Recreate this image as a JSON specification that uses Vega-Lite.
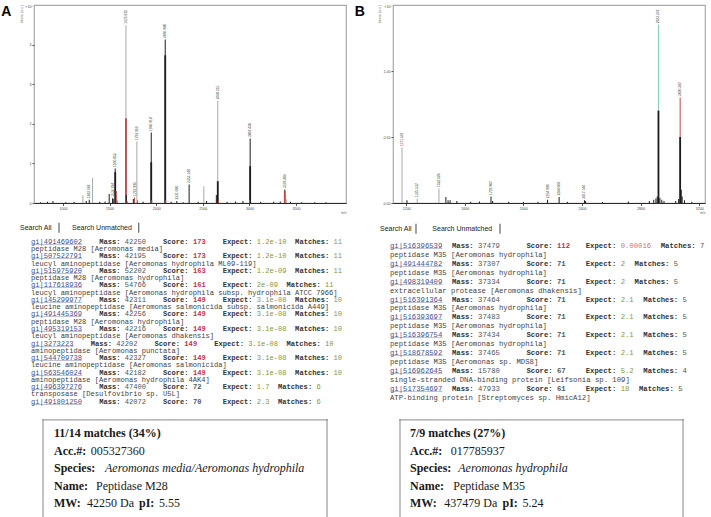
{
  "$schema": "https://vega.github.io/schema/vega-lite/v6.json",
  "background": "white",
  "padding": {"left": 0, "top": 4, "right": 0, "bottom": 0},
  "config": {
    "view": {"stroke": null},
    "font": "Liberation Sans",
    "axis": {"grid": false, "domain": false, "labelFont": "Liberation Sans", "titleFont": "Liberation Sans"}
  },
  "datasets": {
    "peaksA": [
      {"mz": 1282.668, "intensity": 0.08, "trace": "processed"},
      {"mz": 1532.794, "intensity": 0.12, "trace": "processed"},
      {"mz": 1560.852, "intensity": 0.87, "trace": "processed"},
      {"mz": 1675.875, "intensity": 4.49, "trace": "raw"},
      {"mz": 1767.995, "intensity": 0.14, "trace": "matched"},
      {"mz": 1792.91, "intensity": 1.55, "trace": "raw"},
      {"mz": 1946.918, "intensity": 1.78, "trace": "processed"},
      {"mz": 2096.98, "intensity": 4.13, "trace": "processed"},
      {"mz": 2221.09, "intensity": 0.05, "trace": "processed"},
      {"mz": 2353.148, "intensity": 0.47, "trace": "processed"},
      {"mz": 2660.215, "intensity": 2.58, "trace": "raw"},
      {"mz": 3007.42, "intensity": 1.63, "trace": "processed"},
      {"mz": 3378.486, "intensity": 0.34, "trace": "processed"}
    ],
    "coresA": [
      {"mz": 1560.852, "intensity": 0.78, "trace": "processed"},
      {"mz": 1675.875, "intensity": 2.14, "trace": "matched"},
      {"mz": 1946.918, "intensity": 1.03, "trace": "processed"},
      {"mz": 2096.98, "intensity": 3.73, "trace": "processed"},
      {"mz": 2660.215, "intensity": 0.55, "trace": "processed"},
      {"mz": 3007.42, "intensity": 0.93, "trace": "processed"},
      {"mz": 3378.486, "intensity": 0.3, "trace": "matched"}
    ],
    "minorA": [
      {"mz": 760, "intensity": 0.02, "trace": "processed"},
      {"mz": 835, "intensity": 0.03, "trace": "processed"},
      {"mz": 893, "intensity": 0.05, "trace": "processed"},
      {"mz": 1030, "intensity": 0.02, "trace": "processed"},
      {"mz": 1120, "intensity": 0.03, "trace": "processed"},
      {"mz": 1214, "intensity": 0.19, "trace": "raw"},
      {"mz": 1250, "intensity": 0.05, "trace": "processed"},
      {"mz": 1318, "intensity": 0.63, "trace": "raw"},
      {"mz": 1395, "intensity": 0.03, "trace": "processed"},
      {"mz": 1452, "intensity": 0.04, "trace": "processed"},
      {"mz": 1496, "intensity": 0.23, "trace": "processed"},
      {"mz": 1539, "intensity": 0.1, "trace": "processed"},
      {"mz": 1572, "intensity": 0.3, "trace": "matched"},
      {"mz": 1582, "intensity": 0.06, "trace": "matched"},
      {"mz": 1680, "intensity": 0.2, "trace": "processed"},
      {"mz": 1688, "intensity": 0.05, "trace": "matched"},
      {"mz": 1755, "intensity": 0.1, "trace": "processed"},
      {"mz": 1800, "intensity": 0.06, "trace": "matched"},
      {"mz": 1860, "intensity": 0.03, "trace": "processed"},
      {"mz": 1952, "intensity": 0.07, "trace": "matched"},
      {"mz": 2102, "intensity": 0.08, "trace": "matched"},
      {"mz": 2160, "intensity": 0.03, "trace": "processed"},
      {"mz": 2290, "intensity": 0.02, "trace": "processed"},
      {"mz": 2450, "intensity": 0.03, "trace": "processed"},
      {"mz": 2511, "intensity": 0.42, "trace": "raw"},
      {"mz": 2540, "intensity": 0.05, "trace": "processed"},
      {"mz": 2645, "intensity": 0.2, "trace": "processed"},
      {"mz": 2668, "intensity": 0.06, "trace": "matched"},
      {"mz": 2760, "intensity": 0.03, "trace": "processed"},
      {"mz": 2850, "intensity": 0.04, "trace": "processed"},
      {"mz": 2930, "intensity": 0.05, "trace": "processed"},
      {"mz": 3000, "intensity": 0.08, "trace": "matched"},
      {"mz": 3120, "intensity": 0.03, "trace": "processed"},
      {"mz": 3260, "intensity": 0.03, "trace": "processed"},
      {"mz": 3330, "intensity": 0.04, "trace": "processed"},
      {"mz": 3395, "intensity": 0.1, "trace": "raw"},
      {"mz": 3440, "intensity": 0.03, "trace": "processed"},
      {"mz": 3560, "intensity": 0.02, "trace": "processed"},
      {"mz": 3700, "intensity": 0.02, "trace": "processed"},
      {"mz": 3820, "intensity": 0.02, "trace": "processed"}
    ],
    "peaksB": [
      {"mz": 1171.547, "intensity": 0.42, "trace": "raw"},
      {"mz": 1275.537, "intensity": 0.035, "trace": "raw"},
      {"mz": 1423.686, "intensity": 0.11, "trace": "raw"},
      {"mz": 1778.907, "intensity": 0.05, "trace": "processed"},
      {"mz": 2164.99, "intensity": 0.025, "trace": "processed"},
      {"mz": 2244.068, "intensity": 0.045, "trace": "processed"},
      {"mz": 2417.144, "intensity": 0.02, "trace": "processed"},
      {"mz": 2922.237, "intensity": 1.35, "trace": "reference"},
      {"mz": 3070.387, "intensity": 0.8, "trace": "matched"}
    ],
    "coresB": [
      {"mz": 2922.237, "intensity": 0.7, "trace": "processed"},
      {"mz": 3070.387, "intensity": 0.5, "trace": "processed"}
    ],
    "minorB": [
      {"mz": 1205, "intensity": 0.02, "trace": "processed"},
      {"mz": 1471, "intensity": 0.045, "trace": "processed"},
      {"mz": 1486, "intensity": 0.02, "trace": "processed"},
      {"mz": 1500, "intensity": 0.02, "trace": "processed"},
      {"mz": 1546, "intensity": 0.015, "trace": "processed"},
      {"mz": 1640, "intensity": 0.01, "trace": "processed"},
      {"mz": 1700, "intensity": 0.012, "trace": "processed"},
      {"mz": 1790, "intensity": 0.015, "trace": "processed"},
      {"mz": 1900, "intensity": 0.01, "trace": "processed"},
      {"mz": 2000, "intensity": 0.008, "trace": "processed"},
      {"mz": 2100, "intensity": 0.01, "trace": "processed"},
      {"mz": 2300, "intensity": 0.01, "trace": "processed"},
      {"mz": 2425, "intensity": 0.015, "trace": "processed"},
      {"mz": 2540, "intensity": 0.008, "trace": "processed"},
      {"mz": 2717, "intensity": 0.012, "trace": "processed"},
      {"mz": 2860, "intensity": 0.015, "trace": "processed"},
      {"mz": 2890, "intensity": 0.025, "trace": "processed"},
      {"mz": 2905, "intensity": 0.035, "trace": "processed"},
      {"mz": 2914, "intensity": 0.05, "trace": "processed"},
      {"mz": 2932, "intensity": 0.04, "trace": "processed"},
      {"mz": 2945, "intensity": 0.025, "trace": "processed"},
      {"mz": 2960, "intensity": 0.015, "trace": "processed"},
      {"mz": 3040, "intensity": 0.015, "trace": "processed"},
      {"mz": 3060, "intensity": 0.03, "trace": "processed"},
      {"mz": 3078, "intensity": 0.1, "trace": "processed"},
      {"mz": 3084, "intensity": 0.05, "trace": "processed"},
      {"mz": 3100, "intensity": 0.02, "trace": "processed"},
      {"mz": 3150, "intensity": 0.01, "trace": "processed"}
    ],
    "hitsA": [
      {"rank": 0, "gi": "gi|491469602", "mass": 42250, "score": 173, "expect": "1.2e-10", "matches": 11, "desc": "peptidase M28 [Aeromonas media]"},
      {"rank": 1, "gi": "gi|507522791", "mass": 42195, "score": 173, "expect": "1.2e-10", "matches": 11, "desc": "leucyl aminopeptidase [Aeromonas hydrophila ML09-119]"},
      {"rank": 2, "gi": "gi|515975920", "mass": 52202, "score": 163, "expect": "1.2e-09", "matches": 11, "desc": "peptidase M28 [Aeromonas hydrophila]"},
      {"rank": 3, "gi": "gi|117618936", "mass": 54766, "score": 161, "expect": "2e-09", "matches": 11, "desc": "leucyl aminopeptidase [Aeromonas hydrophila subsp. hydrophila ATCC 7966]"},
      {"rank": 4, "gi": "gi|145299977", "mass": 42311, "score": 149, "expect": "3.1e-08", "matches": 10, "desc": "leucine aminopeptidase [Aeromonas salmonicida subsp. salmonicida A449]"},
      {"rank": 5, "gi": "gi|491445369", "mass": 42256, "score": 149, "expect": "3.1e-08", "matches": 10, "desc": "peptidase M28 [Aeromonas hydrophila]"},
      {"rank": 6, "gi": "gi|495319153", "mass": 42216, "score": 149, "expect": "3.1e-08", "matches": 10, "desc": "leucyl aminopeptidase [Aeromonas dhakensis]"},
      {"rank": 7, "gi": "gi|3273223", "mass": 42202, "score": 149, "expect": "3.1e-08", "matches": 10, "desc": "aminopeptidase [Aeromonas punctata]"},
      {"rank": 8, "gi": "gi|544709738", "mass": 42327, "score": 149, "expect": "3.1e-08", "matches": 10, "desc": "leucine aminopeptidase [Aeromonas salmonicida]"},
      {"rank": 9, "gi": "gi|563546024", "mass": 42182, "score": 149, "expect": "3.1e-08", "matches": 10, "desc": "aminopeptidase [Aeromonas hydrophila 4AK4]"},
      {"rank": 10, "gi": "gi|496397276", "mass": 47400, "score": 72, "expect": "1.7", "matches": 6, "desc": "transposase [Desulfovibrio sp. U5L]"},
      {"rank": 11, "gi": "gi|491801250", "mass": 42072, "score": 70, "expect": "2.3", "matches": 6, "desc": ""}
    ],
    "hitsB": [
      {"rank": 0, "gi": "gi|516396539", "mass": 37479, "score": 112, "expect": "0.00016", "matches": 7, "desc": "peptidase M35 [Aeromonas hydrophila]"},
      {"rank": 1, "gi": "gi|491444782", "mass": 37307, "score": 71, "expect": "2", "matches": 5, "desc": "peptidase M35 [Aeromonas hydrophila]"},
      {"rank": 2, "gi": "gi|498319409", "mass": 37334, "score": 71, "expect": "2", "matches": 5, "desc": "extracellular protease [Aeromonas dhakensis]"},
      {"rank": 3, "gi": "gi|516391364", "mass": 37464, "score": 71, "expect": "2.1", "matches": 5, "desc": "peptidase M35 [Aeromonas hydrophila]"},
      {"rank": 4, "gi": "gi|516393697", "mass": 37483, "score": 71, "expect": "2.1", "matches": 5, "desc": "peptidase M35 [Aeromonas hydrophila]"},
      {"rank": 5, "gi": "gi|516396754", "mass": 37434, "score": 71, "expect": "2.1", "matches": 5, "desc": "peptidase M35 [Aeromonas hydrophila]"},
      {"rank": 6, "gi": "gi|518678592", "mass": 37465, "score": 71, "expect": "2.1", "matches": 5, "desc": "peptidase M35 [Aeromonas sp. MDS8]"},
      {"rank": 7, "gi": "gi|516962645", "mass": 15780, "score": 67, "expect": "5.2", "matches": 4, "desc": "single-stranded DNA-binding protein [Leifsonia sp. 109]"},
      {"rank": 8, "gi": "gi|517354697", "mass": 47933, "score": 61, "expect": "18", "matches": 5, "desc": "ATP-binding protein [Streptomyces sp. HmicA12]"}
    ]
  },
  "bounds": "full",
  "spacing": 7,
  "hconcat": [
    {
      "bounds": "flush",
      "spacing": 0,
      "vconcat": [
        {
          "width": 312,
          "height": 198,
          "view": {"stroke": "#a9a9a9", "strokeWidth": 1.2},
          "title": {"text": "A", "orient": "left", "anchor": "end", "angle": 0, "align": "right", "baseline": "top", "fontSize": 14, "fontWeight": "bold", "font": "Liberation Sans", "color": "#000000", "offset": -2.5},
          "layer": [
            {
              "data": {"name": "peaksA"},
              "mark": {"type": "bar", "width": 1, "orient": "vertical"},
              "encoding": {
                "x": {"field": "mz", "type": "quantitative", "scale": {"domain": [690, 4035], "nice": false, "zero": false, "padding": 0},
                  "axis": {"values": [1000, 1500, 2000, 2500, 3000, 3500], "format": "d", "domain": true, "domainColor": "#2a2a2a", "domainWidth": 1, "labelFontSize": 3.6, "labelColor": "#444444", "tickSize": 2.5, "tickColor": "#555555", "labelPadding": 1, "title": "m/z", "titleFontSize": 3.2, "titleFontWeight": "normal", "titleColor": "#555555", "titleAnchor": "end", "titleAlign": "right", "titlePadding": 0}},
                "y": {"field": "intensity", "type": "quantitative", "stack": null, "scale": {"domain": [0, 5], "nice": false, "padding": 0},
                  "axis": {"values": [0, 1, 2, 3, 4], "format": "d", "labelFontSize": 3.6, "labelColor": "#444444", "tickSize": 2, "tickColor": "#555555", "labelPadding": 1, "title": "Intens. [a.u.]", "titleFontSize": 3.2, "titleFontWeight": "normal", "titleColor": "#555555", "titleAnchor": "end", "titlePadding": 6}},
                "color": {"field": "trace", "type": "nominal", "scale": {"domain": ["raw", "processed", "matched", "reference"], "range": ["#a8a8a8", "#1c1c1c", "#b94a48", "#86c9bb"]}, "legend": null}
              }
            },
            {
              "data": {"name": "coresA"},
              "mark": {"type": "bar", "width": 1.8, "orient": "vertical"},
              "encoding": {
                "x": {"field": "mz", "type": "quantitative", "scale": {"domain": [690, 4035], "nice": false, "zero": false, "padding": 0}},
                "y": {"field": "intensity", "type": "quantitative", "stack": null, "scale": {"domain": [0, 5], "nice": false, "padding": 0}},
                "color": {"field": "trace", "type": "nominal", "scale": {"domain": ["raw", "processed", "matched", "reference"], "range": ["#a8a8a8", "#1c1c1c", "#b94a48", "#86c9bb"]}, "legend": null}
              }
            },
            {
              "data": {"name": "minorA"},
              "mark": {"type": "bar", "width": 1, "orient": "vertical"},
              "encoding": {
                "x": {"field": "mz", "type": "quantitative", "scale": {"domain": [690, 4035], "nice": false, "zero": false, "padding": 0}},
                "y": {"field": "intensity", "type": "quantitative", "stack": null, "scale": {"domain": [0, 5], "nice": false, "padding": 0}},
                "color": {"field": "trace", "type": "nominal", "scale": {"domain": ["raw", "processed", "matched", "reference"], "range": ["#a8a8a8", "#1c1c1c", "#b94a48", "#86c9bb"]}, "legend": null}
              }
            },
            {
              "data": {"name": "peaksA"},
              "mark": {"type": "text", "angle": 270, "align": "left", "baseline": "middle", "dx": 1.5, "fontSize": 3.3, "color": "#444444"},
              "encoding": {
                "x": {"field": "mz", "type": "quantitative", "scale": {"domain": [690, 4035], "nice": false, "zero": false, "padding": 0}},
                "y": {"field": "intensity", "type": "quantitative", "scale": {"domain": [0, 5], "nice": false, "padding": 0}},
                "text": {"field": "mz", "type": "quantitative", "format": ".3f"}
              }
            },
            {
              "data": {"values": [{"unit": "×10⁴"}]},
              "mark": {"type": "text", "align": "right", "baseline": "top", "dx": -1, "fontSize": 3.6, "color": "#444444"},
              "encoding": {
                "x": {"datum": 690, "type": "quantitative", "scale": {"domain": [690, 4035], "nice": false, "zero": false, "padding": 0}},
                "y": {"datum": 5, "type": "quantitative", "scale": {"domain": [0, 5], "nice": false, "padding": 0}},
                "text": {"field": "unit", "type": "nominal"}
              }
            }
          ]
        },
        {
          "width": 312,
          "height": 216,
          "layer": [
            {
              "data": {"values": [{"label": "Search All"}]},
              "mark": {"type": "text", "align": "left", "baseline": "middle", "fontSize": 7, "color": "#222222", "dx": -14},
              "encoding": {
                "x": {"datum": 0.704, "type": "quantitative", "scale": {"domain": [0.704, 73.943], "nice": false, "zero": false, "padding": 0}, "axis": null},
                "y": {"datum": -0.962, "type": "quantitative", "scale": {"domain": [-2.66, 12.185], "reverse": true, "nice": false, "zero": false, "padding": 0}, "axis": null},
                "text": {"field": "label", "type": "nominal"}
              }
            },
            {
              "data": {"values": [{"label": "Search Unmatched"}]},
              "mark": {"type": "text", "align": "left", "baseline": "middle", "fontSize": 7, "color": "#222222"},
              "encoding": {
                "x": {"datum": 9.62, "type": "quantitative", "scale": {"domain": [0.704, 73.943], "nice": false, "zero": false, "padding": 0}, "axis": null},
                "y": {"datum": -0.962, "type": "quantitative", "scale": {"domain": [-2.66, 12.185], "reverse": true, "nice": false, "zero": false, "padding": 0}, "axis": null},
                "text": {"field": "label", "type": "nominal"}
              }
            },
            {
              "data": {"values": [{"edge": 6.57}, {"edge": 25.28}]},
              "mark": {"type": "tick", "orient": "vertical", "color": "#333333", "thickness": 1.3, "size": 10},
              "encoding": {
                "x": {"field": "edge", "type": "quantitative", "scale": {"domain": [0.704, 73.943], "nice": false, "zero": false, "padding": 0}, "axis": null},
                "y": {"datum": -0.962, "type": "quantitative", "scale": {"domain": [-2.66, 12.185], "reverse": true, "nice": false, "zero": false, "padding": 0}, "axis": null}
              }
            },
            {
              "data": {"name": "hitsA"},
              "transform": [
                {"calculate": "length(datum.gi)", "as": "giEnd"},
                {"calculate": "pad('', datum.giEnd, '_')", "as": "giLine"},
                {"calculate": "datum.giEnd + 4", "as": "massCol"},
                {"calculate": "datum.massCol + 15", "as": "scoreCol"},
                {"calculate": "datum.scoreCol + 14", "as": "expectCol"},
                {"calculate": "datum.expectCol + 10 + length(datum.expect)", "as": "matchesCol"}
              ],
              "encoding": {
                "y": {"field": "rank", "type": "quantitative", "scale": {"domain": [-2.66, 12.185], "reverse": true, "nice": false, "zero": false, "padding": 0}, "axis": null}
              },
              "layer": [
                {
                  "mark": {"type": "text", "align": "left", "baseline": "middle", "font": "Liberation Mono", "fontSize": 7.1, "color": "#44518a", "dx": -3},
                  "encoding": {
                    "x": {"datum": 0.704, "type": "quantitative", "scale": {"domain": [0.704, 73.943], "nice": false, "zero": false, "padding": 0}, "axis": null},
                    "text": {"field": "gi", "type": "nominal"}
                  }
                },
                {
                  "mark": {"type": "text", "align": "left", "baseline": "middle", "font": "Liberation Mono", "fontSize": 7.1, "color": "#44518a", "dx": -3},
                  "encoding": {
                    "x": {"datum": 0.704, "type": "quantitative", "scale": {"domain": [0.704, 73.943], "nice": false, "zero": false, "padding": 0}, "axis": null},
                    "text": {"field": "giLine", "type": "nominal"}
                  }
                },
                {
                  "mark": {"type": "text", "align": "left", "baseline": "middle", "font": "Liberation Mono", "fontSize": 7.1, "fontWeight": "bold", "color": "#333333"},
                  "encoding": {
                    "x": {"field": "massCol", "type": "quantitative", "scale": {"domain": [0.704, 73.943], "nice": false, "zero": false, "padding": 0}, "axis": null},
                    "text": {"value": "Mass:"}
                  }
                },
                {
                  "mark": {"type": "text", "align": "left", "baseline": "middle", "font": "Liberation Mono", "fontSize": 7.1, "color": "#555555", "dx": 25.56},
                  "encoding": {
                    "x": {"field": "massCol", "type": "quantitative", "scale": {"domain": [0.704, 73.943], "nice": false, "zero": false, "padding": 0}, "axis": null},
                    "text": {"field": "mass", "type": "nominal"}
                  }
                },
                {
                  "mark": {"type": "text", "align": "left", "baseline": "middle", "font": "Liberation Mono", "fontSize": 7.1, "fontWeight": "bold", "color": "#333333"},
                  "encoding": {
                    "x": {"field": "scoreCol", "type": "quantitative", "scale": {"domain": [0.704, 73.943], "nice": false, "zero": false, "padding": 0}, "axis": null},
                    "text": {"value": "Score:"}
                  }
                },
                {
                  "mark": {"type": "text", "align": "left", "baseline": "middle", "font": "Liberation Mono", "fontSize": 7.1, "fontWeight": "bold", "dx": 29.82},
                  "encoding": {
                    "x": {"field": "scoreCol", "type": "quantitative", "scale": {"domain": [0.704, 73.943], "nice": false, "zero": false, "padding": 0}, "axis": null},
                    "text": {"field": "score", "type": "nominal"},
                    "color": {"condition": {"test": "datum.score > 100", "value": "#c42f4d"}, "value": "#555555"}
                  }
                },
                {
                  "mark": {"type": "text", "align": "left", "baseline": "middle", "font": "Liberation Mono", "fontSize": 7.1, "fontWeight": "bold", "color": "#333333"},
                  "encoding": {
                    "x": {"field": "expectCol", "type": "quantitative", "scale": {"domain": [0.704, 73.943], "nice": false, "zero": false, "padding": 0}, "axis": null},
                    "text": {"value": "Expect:"}
                  }
                },
                {
                  "mark": {"type": "text", "align": "left", "baseline": "middle", "font": "Liberation Mono", "fontSize": 7.1, "color": "#8a963c", "dx": 34.08},
                  "encoding": {
                    "x": {"field": "expectCol", "type": "quantitative", "scale": {"domain": [0.704, 73.943], "nice": false, "zero": false, "padding": 0}, "axis": null},
                    "text": {"field": "expect", "type": "nominal"}
                  }
                },
                {
                  "mark": {"type": "text", "align": "left", "baseline": "middle", "font": "Liberation Mono", "fontSize": 7.1, "fontWeight": "bold", "color": "#333333"},
                  "encoding": {
                    "x": {"field": "matchesCol", "type": "quantitative", "scale": {"domain": [0.704, 73.943], "nice": false, "zero": false, "padding": 0}, "axis": null},
                    "text": {"value": "Matches:"}
                  }
                },
                {
                  "mark": {"type": "text", "align": "left", "baseline": "middle", "font": "Liberation Mono", "fontSize": 7.1, "color": "#8a963c", "dx": 38.34},
                  "encoding": {
                    "x": {"field": "matchesCol", "type": "quantitative", "scale": {"domain": [0.704, 73.943], "nice": false, "zero": false, "padding": 0}, "axis": null},
                    "text": {"field": "matches", "type": "nominal"}
                  }
                },
                {
                  "mark": {"type": "text", "align": "left", "baseline": "middle", "font": "Liberation Mono", "fontSize": 7.1, "color": "#444444", "dx": -3, "dy": 7.27},
                  "encoding": {
                    "x": {"datum": 0.704, "type": "quantitative", "scale": {"domain": [0.704, 73.943], "nice": false, "zero": false, "padding": 0}, "axis": null},
                    "text": {"field": "desc", "type": "nominal"}
                  }
                }
              ]
            }
          ]
        },
        {
          "width": 312,
          "height": 99,
          "layer": [
            {
              "data": {"values": [{"edge": 0.75}, {"edge": 24.42}]},
              "mark": {"type": "tick", "orient": "vertical", "color": "#7a7a7a", "thickness": 1.3, "size": 200, "clip": true},
              "encoding": {
                "x": {"field": "edge", "type": "quantitative", "scale": {"domain": [0, 26], "nice": false, "zero": false, "padding": 0}, "axis": null},
                "y": {"datum": 4.857, "type": "quantitative", "scale": {"domain": [-0.8, 4.857], "reverse": true, "nice": false, "zero": false, "padding": 0}, "axis": null}
              }
            },
            {
              "data": {"values": [{"edge": -0.75}]},
              "mark": {"type": "tick", "orient": "horizontal", "color": "#7a7a7a", "thickness": 1.3, "size": 285.3},
              "encoding": {
                "x": {"datum": 12.585, "type": "quantitative", "scale": {"domain": [0, 26], "nice": false, "zero": false, "padding": 0}, "axis": null},
                "y": {"field": "edge", "type": "quantitative", "scale": {"domain": [-0.8, 4.857], "reverse": true, "nice": false, "zero": false, "padding": 0}, "axis": null}
              }
            },
            {
              "data": {"values": [
                {"line": 0, "text": "11/14 matches (34%)"},
                {"line": 1, "text": "Acc.#:"},
                {"line": 2, "text": "Species:"},
                {"line": 3, "text": "Name:"},
                {"line": 4, "text": "MW:"}
              ]},
              "mark": {"type": "text", "align": "left", "baseline": "middle", "font": "Liberation Serif", "fontSize": 12, "fontWeight": "bold", "color": "#1a1a1a"},
              "encoding": {
                "x": {"datum": 1.667, "type": "quantitative", "scale": {"domain": [0, 26], "nice": false, "zero": false, "padding": 0}, "axis": null},
                "y": {"field": "line", "type": "quantitative", "scale": {"domain": [-0.8, 4.857], "reverse": true, "nice": false, "zero": false, "padding": 0}, "axis": null},
                "text": {"field": "text", "type": "nominal"}
              }
            },
            {
              "data": {"values": [{"line": 1, "text": "005327360"}]},
              "mark": {"type": "text", "align": "left", "baseline": "middle", "font": "Liberation Serif", "fontSize": 12, "color": "#1a1a1a"},
              "encoding": {
                "x": {"datum": 4.73, "type": "quantitative", "scale": {"domain": [0, 26], "nice": false, "zero": false, "padding": 0}, "axis": null},
                "y": {"field": "line", "type": "quantitative", "scale": {"domain": [-0.8, 4.857], "reverse": true, "nice": false, "zero": false, "padding": 0}, "axis": null},
                "text": {"field": "text", "type": "nominal"}
              }
            },
            {
              "data": {"values": [{"line": 2, "text": "Aeromonas media/Aeromonas hydrophila"}]},
              "mark": {"type": "text", "align": "left", "baseline": "middle", "font": "Liberation Serif", "fontSize": 12, "fontStyle": "italic", "color": "#1a1a1a"},
              "encoding": {
                "x": {"datum": 5.92, "type": "quantitative", "scale": {"domain": [0, 26], "nice": false, "zero": false, "padding": 0}, "axis": null},
                "y": {"field": "line", "type": "quantitative", "scale": {"domain": [-0.8, 4.857], "reverse": true, "nice": false, "zero": false, "padding": 0}, "axis": null},
                "text": {"field": "text", "type": "nominal"}
              }
            },
            {
              "data": {"values": [{"line": 3, "text": "Peptidase M28"}]},
              "mark": {"type": "text", "align": "left", "baseline": "middle", "font": "Liberation Serif", "fontSize": 12, "color": "#1a1a1a"},
              "encoding": {
                "x": {"datum": 5.17, "type": "quantitative", "scale": {"domain": [0, 26], "nice": false, "zero": false, "padding": 0}, "axis": null},
                "y": {"field": "line", "type": "quantitative", "scale": {"domain": [-0.8, 4.857], "reverse": true, "nice": false, "zero": false, "padding": 0}, "axis": null},
                "text": {"field": "text", "type": "nominal"}
              }
            },
            {
              "data": {"values": [{"line": 4, "text": "42250 Da"}]},
              "mark": {"type": "text", "align": "left", "baseline": "middle", "font": "Liberation Serif", "fontSize": 12, "color": "#1a1a1a"},
              "encoding": {
                "x": {"datum": 4.42, "type": "quantitative", "scale": {"domain": [0, 26], "nice": false, "zero": false, "padding": 0}, "axis": null},
                "y": {"field": "line", "type": "quantitative", "scale": {"domain": [-0.8, 4.857], "reverse": true, "nice": false, "zero": false, "padding": 0}, "axis": null},
                "text": {"field": "text", "type": "nominal"}
              }
            },
            {
              "data": {"values": [{"line": 4, "text": "pI:"}]},
              "mark": {"type": "text", "align": "left", "baseline": "middle", "font": "Liberation Serif", "fontSize": 12, "fontWeight": "bold", "color": "#1a1a1a"},
              "encoding": {
                "x": {"datum": 8.75, "type": "quantitative", "scale": {"domain": [0, 26], "nice": false, "zero": false, "padding": 0}, "axis": null},
                "y": {"field": "line", "type": "quantitative", "scale": {"domain": [-0.8, 4.857], "reverse": true, "nice": false, "zero": false, "padding": 0}, "axis": null},
                "text": {"field": "text", "type": "nominal"}
              }
            },
            {
              "data": {"values": [{"line": 4, "text": "5.55"}]},
              "mark": {"type": "text", "align": "left", "baseline": "middle", "font": "Liberation Serif", "fontSize": 12, "color": "#1a1a1a"},
              "encoding": {
                "x": {"datum": 10.42, "type": "quantitative", "scale": {"domain": [0, 26], "nice": false, "zero": false, "padding": 0}, "axis": null},
                "y": {"field": "line", "type": "quantitative", "scale": {"domain": [-0.8, 4.857], "reverse": true, "nice": false, "zero": false, "padding": 0}, "axis": null},
                "text": {"field": "text", "type": "nominal"}
              }
            }
          ]
        }
      ]
    },
    {
      "bounds": "flush",
      "spacing": 0,
      "vconcat": [
        {
          "width": 312,
          "height": 198,
          "view": {"stroke": "#a9a9a9", "strokeWidth": 1.2},
          "title": {"text": "B", "orient": "left", "anchor": "end", "angle": 0, "align": "right", "baseline": "top", "fontSize": 14, "fontWeight": "bold", "font": "Liberation Sans", "color": "#000000", "offset": 2},
          "layer": [
            {
              "data": {"name": "peaksB"},
              "mark": {"type": "bar", "width": 1, "orient": "vertical"},
              "encoding": {
                "x": {"field": "mz", "type": "quantitative", "scale": {"domain": [1110, 3240], "nice": false, "zero": false, "padding": 0},
                  "axis": {"values": [1200, 1400, 1600, 1800, 2000, 2200, 2400, 2600, 2800, 3000, 3200], "format": "d", "domain": true, "domainColor": "#2a2a2a", "domainWidth": 1, "labelFontSize": 3.6, "labelColor": "#444444", "tickSize": 2.5, "tickColor": "#555555", "labelPadding": 1, "title": "m/z", "titleFontSize": 3.2, "titleFontWeight": "normal", "titleColor": "#555555", "titleAnchor": "end", "titleAlign": "right", "titlePadding": 0}},
                "y": {"field": "intensity", "type": "quantitative", "stack": null, "scale": {"domain": [0, 1.5], "nice": false, "padding": 0},
                  "axis": {"values": [0, 0.25, 0.5, 0.75, 1, 1.25], "format": ".2f", "labelFontSize": 3.6, "labelColor": "#444444", "tickSize": 2, "tickColor": "#555555", "labelPadding": 1, "title": "Intens. [a.u.]", "titleFontSize": 3.2, "titleFontWeight": "normal", "titleColor": "#555555", "titleAnchor": "end", "titlePadding": 2}},
                "color": {"field": "trace", "type": "nominal", "scale": {"domain": ["raw", "processed", "matched", "reference"], "range": ["#a8a8a8", "#1c1c1c", "#b94a48", "#86c9bb"]}, "legend": null}
              }
            },
            {
              "data": {"name": "coresB"},
              "mark": {"type": "bar", "width": 1.8, "orient": "vertical"},
              "encoding": {
                "x": {"field": "mz", "type": "quantitative", "scale": {"domain": [1110, 3240], "nice": false, "zero": false, "padding": 0}},
                "y": {"field": "intensity", "type": "quantitative", "stack": null, "scale": {"domain": [0, 1.5], "nice": false, "padding": 0}},
                "color": {"field": "trace", "type": "nominal", "scale": {"domain": ["raw", "processed", "matched", "reference"], "range": ["#a8a8a8", "#1c1c1c", "#b94a48", "#86c9bb"]}, "legend": null}
              }
            },
            {
              "data": {"name": "minorB"},
              "mark": {"type": "bar", "width": 1, "orient": "vertical"},
              "encoding": {
                "x": {"field": "mz", "type": "quantitative", "scale": {"domain": [1110, 3240], "nice": false, "zero": false, "padding": 0}},
                "y": {"field": "intensity", "type": "quantitative", "stack": null, "scale": {"domain": [0, 1.5], "nice": false, "padding": 0}},
                "color": {"field": "trace", "type": "nominal", "scale": {"domain": ["raw", "processed", "matched", "reference"], "range": ["#a8a8a8", "#1c1c1c", "#b94a48", "#86c9bb"]}, "legend": null}
              }
            },
            {
              "data": {"name": "peaksB"},
              "mark": {"type": "text", "angle": 270, "align": "left", "baseline": "middle", "dx": 1.5, "fontSize": 3.3, "color": "#444444"},
              "encoding": {
                "x": {"field": "mz", "type": "quantitative", "scale": {"domain": [1110, 3240], "nice": false, "zero": false, "padding": 0}},
                "y": {"field": "intensity", "type": "quantitative", "scale": {"domain": [0, 1.5], "nice": false, "padding": 0}},
                "text": {"field": "mz", "type": "quantitative", "format": ".3f"}
              }
            },
            {
              "data": {"values": [{"unit": "×10⁴"}]},
              "mark": {"type": "text", "align": "right", "baseline": "top", "dx": -1, "fontSize": 3.6, "color": "#444444"},
              "encoding": {
                "x": {"datum": 1110, "type": "quantitative", "scale": {"domain": [1110, 3240], "nice": false, "zero": false, "padding": 0}},
                "y": {"datum": 1.5, "type": "quantitative", "scale": {"domain": [0, 1.5], "nice": false, "padding": 0}},
                "text": {"field": "unit", "type": "nominal"}
              }
            }
          ]
        },
        {
          "width": 312,
          "height": 216,
          "layer": [
            {
              "data": {"values": [{"label": "Search All"}]},
              "mark": {"type": "text", "align": "left", "baseline": "middle", "fontSize": 7, "color": "#222222", "dx": -13},
              "encoding": {
                "x": {"datum": 0.688, "type": "quantitative", "scale": {"domain": [0.688, 72.248], "nice": false, "zero": false, "padding": 0}, "axis": null},
                "y": {"datum": -0.97, "type": "quantitative", "scale": {"domain": [-2.41, 9.697], "reverse": true, "nice": false, "zero": false, "padding": 0}, "axis": null},
                "text": {"field": "label", "type": "nominal"}
              }
            },
            {
              "data": {"values": [{"label": "Search Unmatched"}]},
              "mark": {"type": "text", "align": "left", "baseline": "middle", "fontSize": 7, "color": "#222222"},
              "encoding": {
                "x": {"datum": 9.71, "type": "quantitative", "scale": {"domain": [0.688, 72.248], "nice": false, "zero": false, "padding": 0}, "axis": null},
                "y": {"datum": -0.97, "type": "quantitative", "scale": {"domain": [-2.41, 9.697], "reverse": true, "nice": false, "zero": false, "padding": 0}, "axis": null},
                "text": {"field": "label", "type": "nominal"}
              }
            },
            {
              "data": {"values": [{"edge": 5.96}, {"edge": 25.23}]},
              "mark": {"type": "tick", "orient": "vertical", "color": "#333333", "thickness": 1.3, "size": 10},
              "encoding": {
                "x": {"field": "edge", "type": "quantitative", "scale": {"domain": [0.688, 72.248], "nice": false, "zero": false, "padding": 0}, "axis": null},
                "y": {"datum": -0.97, "type": "quantitative", "scale": {"domain": [-2.41, 9.697], "reverse": true, "nice": false, "zero": false, "padding": 0}, "axis": null}
              }
            },
            {
              "data": {"name": "hitsB"},
              "transform": [
                {"calculate": "length(datum.gi)", "as": "giEnd"},
                {"calculate": "pad('', datum.giEnd, '_')", "as": "giLine"},
                {"calculate": "datum.giEnd + 2.2", "as": "massCol"},
                {"calculate": "datum.massCol + 17.1", "as": "scoreCol"},
                {"calculate": "datum.scoreCol + 13.6", "as": "expectCol"},
                {"calculate": "datum.expectCol + 10.2 + length(datum.expect)", "as": "matchesCol"}
              ],
              "encoding": {
                "y": {"field": "rank", "type": "quantitative", "scale": {"domain": [-2.41, 9.697], "reverse": true, "nice": false, "zero": false, "padding": 0}, "axis": null}
              },
              "layer": [
                {
                  "mark": {"type": "text", "align": "left", "baseline": "middle", "font": "Liberation Mono", "fontSize": 7.27, "color": "#44518a", "dx": -3},
                  "encoding": {
                    "x": {"datum": 0.688, "type": "quantitative", "scale": {"domain": [0.688, 72.248], "nice": false, "zero": false, "padding": 0}, "axis": null},
                    "text": {"field": "gi", "type": "nominal"}
                  }
                },
                {
                  "mark": {"type": "text", "align": "left", "baseline": "middle", "font": "Liberation Mono", "fontSize": 7.27, "color": "#44518a", "dx": -3},
                  "encoding": {
                    "x": {"datum": 0.688, "type": "quantitative", "scale": {"domain": [0.688, 72.248], "nice": false, "zero": false, "padding": 0}, "axis": null},
                    "text": {"field": "giLine", "type": "nominal"}
                  }
                },
                {
                  "mark": {"type": "text", "align": "left", "baseline": "middle", "font": "Liberation Mono", "fontSize": 7.27, "fontWeight": "bold", "color": "#333333"},
                  "encoding": {
                    "x": {"field": "massCol", "type": "quantitative", "scale": {"domain": [0.688, 72.248], "nice": false, "zero": false, "padding": 0}, "axis": null},
                    "text": {"value": "Mass:"}
                  }
                },
                {
                  "mark": {"type": "text", "align": "left", "baseline": "middle", "font": "Liberation Mono", "fontSize": 7.27, "color": "#555555", "dx": 26.16},
                  "encoding": {
                    "x": {"field": "massCol", "type": "quantitative", "scale": {"domain": [0.688, 72.248], "nice": false, "zero": false, "padding": 0}, "axis": null},
                    "text": {"field": "mass", "type": "nominal"}
                  }
                },
                {
                  "mark": {"type": "text", "align": "left", "baseline": "middle", "font": "Liberation Mono", "fontSize": 7.27, "fontWeight": "bold", "color": "#333333"},
                  "encoding": {
                    "x": {"field": "scoreCol", "type": "quantitative", "scale": {"domain": [0.688, 72.248], "nice": false, "zero": false, "padding": 0}, "axis": null},
                    "text": {"value": "Score:"}
                  }
                },
                {
                  "mark": {"type": "text", "align": "left", "baseline": "middle", "font": "Liberation Mono", "fontSize": 7.27, "fontWeight": "bold", "dx": 30.52},
                  "encoding": {
                    "x": {"field": "scoreCol", "type": "quantitative", "scale": {"domain": [0.688, 72.248], "nice": false, "zero": false, "padding": 0}, "axis": null},
                    "text": {"field": "score", "type": "nominal"},
                    "color": {"condition": {"test": "datum.score > 100", "value": "#c42f4d"}, "value": "#555555"}
                  }
                },
                {
                  "mark": {"type": "text", "align": "left", "baseline": "middle", "font": "Liberation Mono", "fontSize": 7.27, "fontWeight": "bold", "color": "#333333"},
                  "encoding": {
                    "x": {"field": "expectCol", "type": "quantitative", "scale": {"domain": [0.688, 72.248], "nice": false, "zero": false, "padding": 0}, "axis": null},
                    "text": {"value": "Expect:"}
                  }
                },
                {
                  "mark": {"type": "text", "align": "left", "baseline": "middle", "font": "Liberation Mono", "fontSize": 7.27, "dx": 34.88},
                  "encoding": {
                    "x": {"field": "expectCol", "type": "quantitative", "scale": {"domain": [0.688, 72.248], "nice": false, "zero": false, "padding": 0}, "axis": null},
                    "text": {"field": "expect", "type": "nominal"},
                    "color": {"condition": {"test": "datum.score > 100", "value": "#cf6f84"}, "value": "#8a963c"}
                  }
                },
                {
                  "mark": {"type": "text", "align": "left", "baseline": "middle", "font": "Liberation Mono", "fontSize": 7.27, "fontWeight": "bold", "color": "#333333"},
                  "encoding": {
                    "x": {"field": "matchesCol", "type": "quantitative", "scale": {"domain": [0.688, 72.248], "nice": false, "zero": false, "padding": 0}, "axis": null},
                    "text": {"value": "Matches:"}
                  }
                },
                {
                  "mark": {"type": "text", "align": "left", "baseline": "middle", "font": "Liberation Mono", "fontSize": 7.27, "color": "#555555", "dx": 39.24},
                  "encoding": {
                    "x": {"field": "matchesCol", "type": "quantitative", "scale": {"domain": [0.688, 72.248], "nice": false, "zero": false, "padding": 0}, "axis": null},
                    "text": {"field": "matches", "type": "nominal"}
                  }
                },
                {
                  "mark": {"type": "text", "align": "left", "baseline": "middle", "font": "Liberation Mono", "fontSize": 7.27, "color": "#444444", "dx": -3, "dy": 8.92},
                  "encoding": {
                    "x": {"datum": 0.688, "type": "quantitative", "scale": {"domain": [0.688, 72.248], "nice": false, "zero": false, "padding": 0}, "axis": null},
                    "text": {"field": "desc", "type": "nominal"}
                  }
                }
              ]
            }
          ]
        },
        {
          "width": 312,
          "height": 99,
          "layer": [
            {
              "data": {"values": [{"edge": 0.583}, {"edge": 24.17}]},
              "mark": {"type": "tick", "orient": "vertical", "color": "#7a7a7a", "thickness": 1.3, "size": 200, "clip": true},
              "encoding": {
                "x": {"field": "edge", "type": "quantitative", "scale": {"domain": [0, 26], "nice": false, "zero": false, "padding": 0}, "axis": null},
                "y": {"datum": 4.857, "type": "quantitative", "scale": {"domain": [-0.8, 4.857], "reverse": true, "nice": false, "zero": false, "padding": 0}, "axis": null}
              }
            },
            {
              "data": {"values": [{"edge": -0.75}]},
              "mark": {"type": "tick", "orient": "horizontal", "color": "#7a7a7a", "thickness": 1.3, "size": 284.3},
              "encoding": {
                "x": {"datum": 12.3765, "type": "quantitative", "scale": {"domain": [0, 26], "nice": false, "zero": false, "padding": 0}, "axis": null},
                "y": {"field": "edge", "type": "quantitative", "scale": {"domain": [-0.8, 4.857], "reverse": true, "nice": false, "zero": false, "padding": 0}, "axis": null}
              }
            },
            {
              "data": {"values": [
                {"line": 0, "text": "7/9 matches (27%)"},
                {"line": 1, "text": "Acc.#:"},
                {"line": 2, "text": "Species:"},
                {"line": 3, "text": "Name:"},
                {"line": 4, "text": "MW:"}
              ]},
              "mark": {"type": "text", "align": "left", "baseline": "middle", "font": "Liberation Serif", "fontSize": 12, "fontWeight": "bold", "color": "#1a1a1a"},
              "encoding": {
                "x": {"datum": 1.417, "type": "quantitative", "scale": {"domain": [0, 26], "nice": false, "zero": false, "padding": 0}, "axis": null},
                "y": {"field": "line", "type": "quantitative", "scale": {"domain": [-0.8, 4.857], "reverse": true, "nice": false, "zero": false, "padding": 0}, "axis": null},
                "text": {"field": "text", "type": "nominal"}
              }
            },
            {
              "data": {"values": [{"line": 1, "text": "017785937"}]},
              "mark": {"type": "text", "align": "left", "baseline": "middle", "font": "Liberation Serif", "fontSize": 12, "color": "#1a1a1a"},
              "encoding": {
                "x": {"datum": 4.81, "type": "quantitative", "scale": {"domain": [0, 26], "nice": false, "zero": false, "padding": 0}, "axis": null},
                "y": {"field": "line", "type": "quantitative", "scale": {"domain": [-0.8, 4.857], "reverse": true, "nice": false, "zero": false, "padding": 0}, "axis": null},
                "text": {"field": "text", "type": "nominal"}
              }
            },
            {
              "data": {"values": [{"line": 2, "text": "Aeromonas hydrophila"}]},
              "mark": {"type": "text", "align": "left", "baseline": "middle", "font": "Liberation Serif", "fontSize": 12, "fontStyle": "italic", "color": "#1a1a1a"},
              "encoding": {
                "x": {"datum": 5.44, "type": "quantitative", "scale": {"domain": [0, 26], "nice": false, "zero": false, "padding": 0}, "axis": null},
                "y": {"field": "line", "type": "quantitative", "scale": {"domain": [-0.8, 4.857], "reverse": true, "nice": false, "zero": false, "padding": 0}, "axis": null},
                "text": {"field": "text", "type": "nominal"}
              }
            },
            {
              "data": {"values": [{"line": 3, "text": "Peptidase M35"}]},
              "mark": {"type": "text", "align": "left", "baseline": "middle", "font": "Liberation Serif", "fontSize": 12, "color": "#1a1a1a"},
              "encoding": {
                "x": {"datum": 5.03, "type": "quantitative", "scale": {"domain": [0, 26], "nice": false, "zero": false, "padding": 0}, "axis": null},
                "y": {"field": "line", "type": "quantitative", "scale": {"domain": [-0.8, 4.857], "reverse": true, "nice": false, "zero": false, "padding": 0}, "axis": null},
                "text": {"field": "text", "type": "nominal"}
              }
            },
            {
              "data": {"values": [{"line": 4, "text": "437479 Da"}]},
              "mark": {"type": "text", "align": "left", "baseline": "middle", "font": "Liberation Serif", "fontSize": 12, "color": "#1a1a1a"},
              "encoding": {
                "x": {"datum": 4.28, "type": "quantitative", "scale": {"domain": [0, 26], "nice": false, "zero": false, "padding": 0}, "axis": null},
                "y": {"field": "line", "type": "quantitative", "scale": {"domain": [-0.8, 4.857], "reverse": true, "nice": false, "zero": false, "padding": 0}, "axis": null},
                "text": {"field": "text", "type": "nominal"}
              }
            },
            {
              "data": {"values": [{"line": 4, "text": "pI:"}]},
              "mark": {"type": "text", "align": "left", "baseline": "middle", "font": "Liberation Serif", "fontSize": 12, "fontWeight": "bold", "color": "#1a1a1a"},
              "encoding": {
                "x": {"datum": 9.125, "type": "quantitative", "scale": {"domain": [0, 26], "nice": false, "zero": false, "padding": 0}, "axis": null},
                "y": {"field": "line", "type": "quantitative", "scale": {"domain": [-0.8, 4.857], "reverse": true, "nice": false, "zero": false, "padding": 0}, "axis": null},
                "text": {"field": "text", "type": "nominal"}
              }
            },
            {
              "data": {"values": [{"line": 4, "text": "5.24"}]},
              "mark": {"type": "text", "align": "left", "baseline": "middle", "font": "Liberation Serif", "fontSize": 12, "color": "#1a1a1a"},
              "encoding": {
                "x": {"datum": 10.79, "type": "quantitative", "scale": {"domain": [0, 26], "nice": false, "zero": false, "padding": 0}, "axis": null},
                "y": {"field": "line", "type": "quantitative", "scale": {"domain": [-0.8, 4.857], "reverse": true, "nice": false, "zero": false, "padding": 0}, "axis": null},
                "text": {"field": "text", "type": "nominal"}
              }
            }
          ]
        }
      ]
    }
  ]
}
